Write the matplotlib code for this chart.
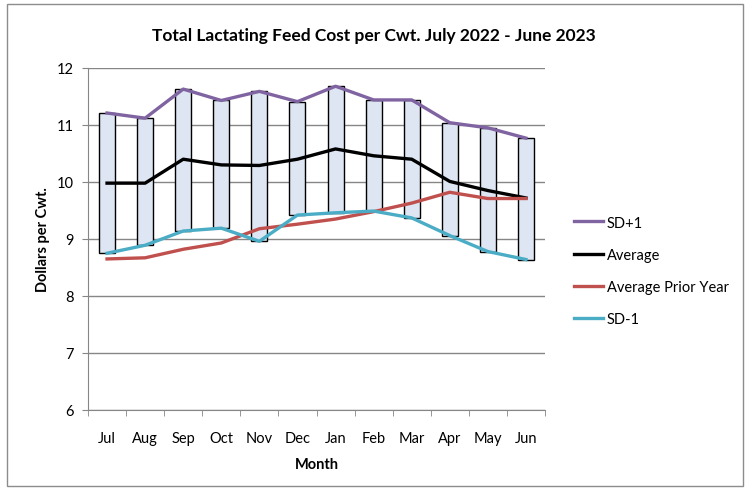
import matplotlib.pyplot as plt
import numpy as np
from matplotlib.patches import Rectangle

plt.rcParams['font.family'] = ['Lato', 'DejaVu Sans']

months = ['Jul', 'Aug', 'Sep', 'Oct', 'Nov', 'Dec', 'Jan', 'Feb', 'Mar', 'Apr', 'May', 'Jun']
sd_plus = [11.21, 11.12, 11.63, 11.43, 11.59, 11.41, 11.68, 11.44, 11.44, 11.04, 10.95, 10.77]
average = [9.98, 9.98, 10.40, 10.30, 10.29, 10.40, 10.58, 10.46, 10.40, 10.01, 9.85, 9.72]
prior_year = [8.65, 8.67, 8.82, 8.93, 9.18, 9.26, 9.35, 9.48, 9.63, 9.82, 9.71, 9.71]
sd_minus = [8.75, 8.89, 9.14, 9.19, 8.96, 9.42, 9.46, 9.49, 9.37, 9.06, 8.78, 8.64]

purple = '#8064a2'
red = '#c0504d'
cyan = '#4bacc6'
grid_gray = '#868686'

fig = plt.figure(figsize=(7.47, 4.89), dpi=100)
ax = fig.add_axes([88 / 747, 1 - 411 / 489, 457 / 747, 342 / 489])

x = np.arange(len(months))
lo = np.array(sd_minus)
hi = np.array(sd_plus)
ax.bar(x, hi - lo, bottom=lo, width=0.42, color='#dde6f2', edgecolor='black',
       linewidth=1.0, zorder=2)

lw = 2.4
ax.plot(x, sd_plus, color=purple, lw=lw, label='SD+1', zorder=3)
ax.plot(x, average, color='black', lw=lw, label='Average', zorder=3)
ax.plot(x, prior_year, color=red, lw=lw, label='Average Prior Year', zorder=3)
ax.plot(x, sd_minus, color=cyan, lw=lw, label='SD-1', zorder=3)

ax.set_xlim(-0.5, len(months) - 0.5)
ax.set_ylim(6, 12)
ax.set_yticks(range(6, 13))
ax.yaxis.grid(True, color=grid_gray, lw=1.0)
ax.set_axisbelow(True)

ax.set_xticks(x)
ax.set_xticklabels(months, fontsize=10.5)
ax.set_xticks(np.arange(-0.5, len(months)), minor=True)
ax.tick_params(axis='x', which='major', length=0, pad=15)
ax.tick_params(axis='x', which='minor', length=4, color=grid_gray)
ax.tick_params(axis='y', length=4, color=grid_gray, labelsize=10.5, pad=6)

for s in ['top', 'right']:
    ax.spines[s].set_visible(False)
for s in ['left', 'bottom']:
    ax.spines[s].set_color(grid_gray)

ax.set_xlabel('Month', fontweight='bold', fontsize=10.5, labelpad=9)
ax.set_ylabel('Dollars per Cwt.', fontweight='bold', fontsize=10.5, labelpad=5)

fig.suptitle('Total Lactating Feed Cost per Cwt. July 2022 - June 2023',
             fontweight='bold', fontsize=12.5, x=0.5, y=0.943)

ax.legend(loc='upper left', bbox_to_anchor=(1.035, 0.607), frameon=False,
          fontsize=10.5, handlelength=2.0, handletextpad=0.25, labelspacing=1.25)

fig.patches.append(Rectangle((7 / 747, 2 / 489), 736 / 747, 482 / 489,
                             transform=fig.transFigure, fill=False,
                             edgecolor='#8c8c8c', lw=1.0))

fig.savefig('out.png', dpi=100)
